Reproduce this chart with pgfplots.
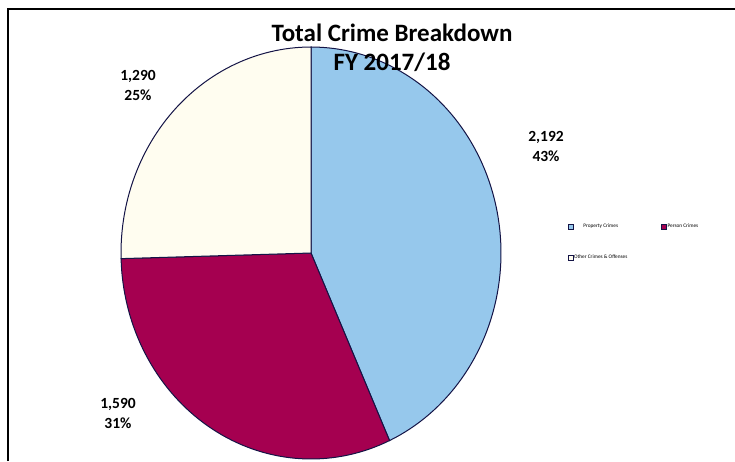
\documentclass[border=0pt]{standalone}
\usepackage{pgfplots}
\pgfplotsset{compat=1.18}
\usepackage{pgfplotstable}
\usepackage{fontspec}
\setmainfont{Carlito}
\definecolor{pieblue}{RGB}{150,200,236}
\definecolor{piemaroon}{RGB}{165,0,80}
\definecolor{piecream}{RGB}{255,253,240}
\definecolor{edge}{RGB}{20,20,70}

\pgfplotstableread{
label value
A 2192
B 1590
C 1290
}\crimedata

\begin{document}
\begin{tikzpicture}
\pgfplotstablegetelem{0}{value}\of\crimedata \let\va\pgfplotsretval
\pgfplotstablegetelem{1}{value}\of\crimedata \let\vb\pgfplotsretval
\pgfplotstablegetelem{2}{value}\of\crimedata \let\vc\pgfplotsretval
\pgfmathsetmacro\tot{\va+\vb+\vc}
\pgfmathsetmacro\aa{360*(\va/\tot)}
\pgfmathsetmacro\ab{\aa+360*(\vb/\tot)}
\path[use as bounding box] (0pt,0pt) rectangle (735pt,461pt);
\draw[line width=1.8pt] (8pt,0pt) -- (8pt,452pt) -- (735pt,452pt);
\begin{axis}[at={(121pt,2pt)}, anchor=south west, scale only axis,
  width=380pt, height=412pt, xmin=-1, xmax=1, ymin=-1, ymax=1,
  hide axis, clip=false,
  legend columns=2,
  legend image code/.code={\draw[#1, line width=0.5pt] (0pt,-2.3pt) rectangle (4.6pt,2.3pt);},
  legend style={at={(1.168,0.578)}, anchor=north west, draw=none, fill=none,
    font=\fontsize{5.3}{6}\selectfont, row sep=24pt,
    nodes={inner sep=1pt},
    /tikz/every even column/.append style={column sep=33pt}},
  ]
\addplot[fill=pieblue, draw=edge, line width=1pt, domain=0:\aa, samples=90, variable=\t]
  ({sin(\t)},{cos(\t)}) -- (axis cs:0,0) -- cycle;
\addlegendentry{Property Crimes}
\addplot[fill=piemaroon, draw=edge, line width=1pt, domain=\aa:\ab, samples=70, variable=\t]
  ({sin(\t)},{cos(\t)}) -- (axis cs:0,0) -- cycle;
\addlegendentry{Person Crimes}
\addplot[fill=piecream, draw=edge, line width=1pt, domain=\ab:360, samples=60, variable=\t]
  ({sin(\t)},{cos(\t)}) -- (axis cs:0,0) -- cycle;
\addlegendentry{Other Crimes \& Offenses}
\end{axis}
\node[font=\bfseries\fontsize{25}{29}\selectfont, align=center] at (392pt,413.5pt) {Total Crime Breakdown\\FY 2017/18};
\node[font=\bfseries\fontsize{15.5}{20}\selectfont, align=center] at (138pt,376pt) {1,290\\25\%};
\node[font=\bfseries\fontsize{15.5}{20}\selectfont, align=center] at (546pt,314.5pt) {2,192\\43\%};
\node[font=\bfseries\fontsize{15.5}{20}\selectfont, align=center] at (118pt,47.5pt) {1,590\\31\%};
\end{tikzpicture}
\end{document}
